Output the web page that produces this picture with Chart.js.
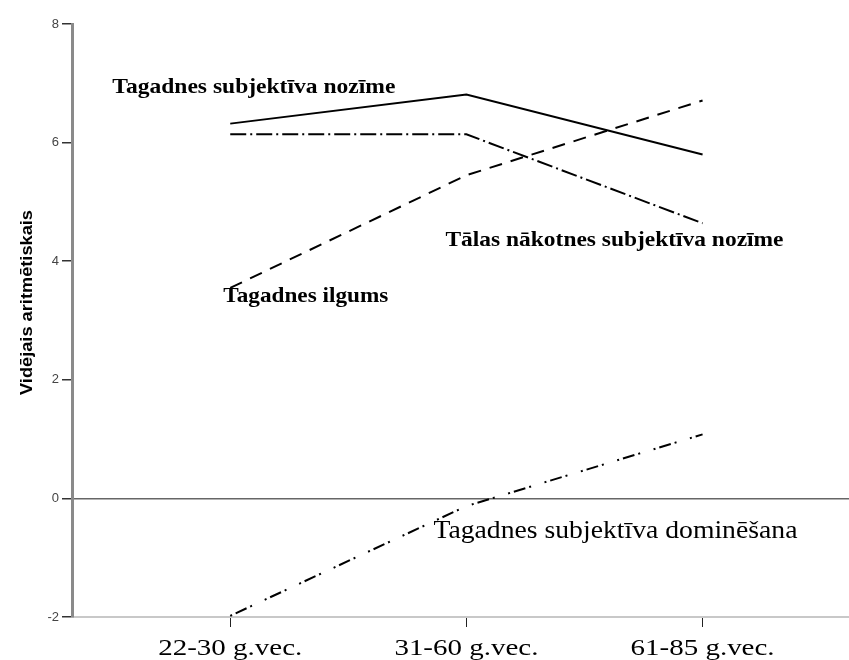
<!DOCTYPE html>
<html><head><meta charset="utf-8">
<script src="https://cdn.jsdelivr.net/npm/chart.js@4.4.1/dist/chart.umd.min.js"></script>
<style>html,body{margin:0;padding:0;background:#fff}#wrap{width:849px;height:660px}</style>
</head><body><div id="wrap"><canvas id="c" width="849" height="660"></canvas></div>
<script>
// ---- data ----
const categories = ['22-30 g.vec.', '31-60 g.vec.', '61-85 g.vec.'];
const seriesNames = ['Tagadnes subjektīva nozīme', 'Tālas nākotnes subjektīva nozīme', 'Tagadnes ilgums', 'Tagadnes subjektīva dominēšana'];
const tagadnesNozime = [6.32, 6.81, 5.80];
const talasNakotnesNozime = [6.14, 6.14, 4.64];
const tagadnesIlgums = [3.55, 5.45, 6.71];
const tagadnesDominesana = [-1.98, -0.13, 1.08];
const yTicks = [-2, 0, 2, 4, 6, 8];
const yTitle = 'Vidējais aritmētiskais';

// ---- helpers ----
function pts(arr){ return arr.map((v,i)=>({x:i, y:v})); }
function drawStretched(ctx, text, x, y, font, targetW, rot){
  ctx.save();
  ctx.font = font;
  const w = ctx.measureText(text).width;
  const sx = targetW / w;
  ctx.translate(x, y);
  if (rot) ctx.rotate(rot);
  ctx.scale(sx, 1);
  ctx.textAlign = 'center';
  ctx.textBaseline = 'alphabetic';
  ctx.fillStyle = '#000';
  ctx.fillText(text, 0, 0);
  ctx.restore();
}

// label placement in data units (x = category index, y = value at baseline)
const labelSpecs = [
  {text: seriesNames[0], x: 0.10, y: 6.83, font: 'bold 21px "Liberation Serif"', w: 283},
  {text: seriesNames[1], x: 1.627, y: 4.25, font: 'bold 21px "Liberation Serif"', w: 338},
  {text: seriesNames[2], x: 0.32, y: 3.32, font: 'bold 21px "Liberation Serif"', w: 165},
  {text: seriesNames[3], x: 1.631, y: -0.66, font: '26px "Liberation Serif"', w: 364}
];

const textPlugin = {
  id: 'texts',
  afterDraw(chart){
    const ctx = chart.ctx, xs = chart.scales.x, ys = chart.scales.y;
    categories.forEach((c,i)=>{
      drawStretched(ctx, c, xs.getPixelForValue(i), ys.bottom + 38, '24px "Liberation Serif"', 144);
    });
    labelSpecs.forEach(s=>{
      drawStretched(ctx, s.text, xs.getPixelForValue(s.x), ys.getPixelForValue(s.y), s.font, s.w);
    });
    drawStretched(ctx, yTitle, 32, (ys.top + ys.bottom)/2 - 18, 'bold 16px "Liberation Sans"', 185, -Math.PI/2);
  }
};

const common = {borderColor:'#000', borderWidth:2, pointRadius:0, fill:false, tension:0};

new Chart(document.getElementById('c'), {
  type: 'line',
  data: {
    datasets: [
      {...common, label: seriesNames[0], data: pts(tagadnesNozime)},
      {...common, label: seriesNames[1], data: pts(talasNakotnesNozime), borderDash:[16,4,2,4]},
      {...common, label: seriesNames[2], data: pts(tagadnesIlgums), borderDash:[13,9]},
      {...common, label: seriesNames[3], data: pts(tagadnesDominesana), borderDash:[2,4,12,4,2,14]}
    ]
  },
  options: {
    responsive: false,
    devicePixelRatio: 1,
    animation: false,
    layout: {padding: {top: 24, right: 0, left: 0, bottom: 0}},
    plugins: {legend: {display:false}, tooltip: {enabled:false}},
    scales: {
      x: {
        type: 'linear',
        min: -0.67, max: 2.62,
        afterBuildTicks: (axis)=>{ axis.ticks = categories.map((c,i)=>({value:i})); },
        afterFit: (s)=>{ s.height = 43; },
        ticks: {display: false},
        grid: {drawOnChartArea: false, drawTicks: true, tickLength: 10, tickColor: '#222', tickWidth: 1},
        border: {display: true, color: '#c8c8c8', width: 2}
      },
      y: {
        type: 'linear',
        min: -2, max: 8,
        afterBuildTicks: (axis)=>{ axis.ticks = yTicks.map(v=>({value:v})); },
        afterFit: (s)=>{ s.width = 72; },
        ticks: {font: {family: '"Liberation Sans", Arial', size: 13}, color: '#444', padding: 3},
        grid: {
          drawOnChartArea: true,
          color: (ctx)=> (ctx.tick && ctx.tick.value === 0) ? '#666' : 'rgba(0,0,0,0)',
          lineWidth: 1.5,
          tickLength: 10, tickColor: '#333', tickWidth: 1.5
        },
        border: {display: true, color: '#8a8a8a', width: 3}
      }
    }
  },
  plugins: [textPlugin]
});
</script>
</body></html>
